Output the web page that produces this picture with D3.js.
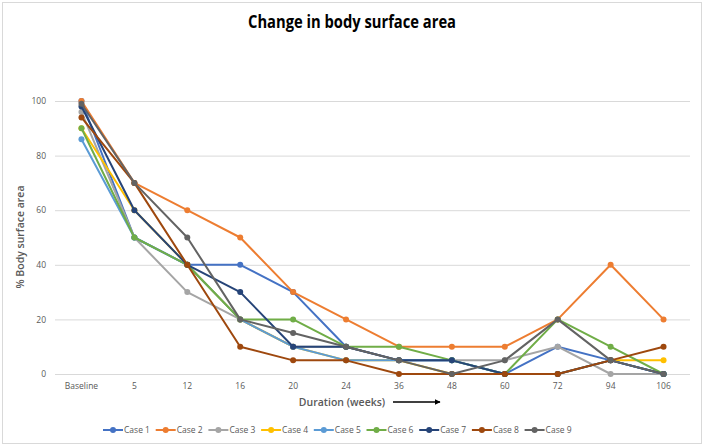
<!DOCTYPE html>
<html><head><meta charset="utf-8">
<script src="https://cdn.jsdelivr.net/npm/d3@7"></script>
<style>body{margin:0;background:#fff;} svg{display:block;}</style>
</head><body>
<svg id="chart" width="705" height="448"></svg>
<script>
const categories = ["Baseline","5","12","16","20","24","36","48","60","72","94","106"];
const yTicks = [0,20,40,60,80,100];
const seriesNames = ["Case 1","Case 2","Case 3","Case 4","Case 5","Case 6","Case 7","Case 8","Case 9"];
const case1 = [100,50,40,40,30,10,5,5,0,10,5,0];
const case2 = [100,70,60,50,30,20,10,10,10,20,40,20];
const case3 = [96,50,30,20,10,10,5,5,5,10,0,0];
const case4 = [90,60,40,20,10,5,5,0,0,0,5,5];
const case5 = [86,50,40,20,10,5,5,5,0,0,5,0];
const case6 = [90,50,40,20,20,10,10,5,0,20,10,0];
const case7 = [98,60,40,30,10,10,5,5,0,0,5,0];
const case8 = [94,70,40,10,5,5,0,0,0,0,5,10];
const case9 = [99,70,50,20,15,10,5,0,5,20,5,0];
const seriesValues = [case1,case2,case3,case4,case5,case6,case7,case8,case9];
const colors = ["#4472C4","#ED7D31","#A5A5A5","#FFC000","#5B9BD5","#70AD47","#264478","#9E480E","#636363"];

const svg = d3.select("#chart");
const font = "'Open Sans', 'Liberation Sans', sans-serif";
svg.append("rect").attr("x",2.5).attr("y",2.5).attr("width",699).attr("height",441)
  .attr("fill","#fff").attr("stroke","#d9d9d9");

const m = {left:55, right:690, top:101, bottom:374};
const x = d3.scaleBand().domain(categories).range([m.left, m.right]);
const y = d3.scaleLinear().domain([0,100]).range([m.bottom, m.top]);

svg.append("text").attr("x",352).attr("y",28).attr("text-anchor","middle")
  .attr("font-family","'Open Sans', sans-serif").attr("font-weight","700").attr("font-size",17.5)
  .attr("fill","#000").attr("textLength",208).attr("lengthAdjust","spacingAndGlyphs")
  .text("Change in body surface area");

const yAxis = d3.axisLeft(y).tickValues(yTicks).tickSize(-(m.right-m.left)).tickPadding(9);
const gy = svg.append("g").attr("transform",`translate(${m.left},0)`).call(yAxis);
gy.select(".domain").remove();
gy.selectAll(".tick line").attr("stroke","#d9d9d9").attr("stroke-width",1);
gy.selectAll(".tick text").attr("font-family",font).attr("font-size",8.5).attr("fill","#595959");

const xAxis = d3.axisBottom(x).tickSize(0).tickPadding(9);
const gx = svg.append("g").attr("transform",`translate(0,${m.bottom})`).call(xAxis);
gx.select(".domain").remove();
gx.selectAll(".tick text").attr("font-family",font).attr("font-size",8.5).attr("fill","#595959");

svg.append("text").attr("transform","translate(24,237) rotate(-90)").attr("text-anchor","middle")
  .attr("font-family",font).attr("font-weight","600").attr("font-size",10.5).attr("fill","#595959")
  .text("% Body surface area");
svg.append("text").attr("x",342).attr("y",406).attr("text-anchor","middle")
  .attr("font-family",font).attr("font-weight","600").attr("font-size",10.5).attr("fill","#595959")
  .text("Duration (weeks)");
svg.append("defs").append("marker").attr("id","arr").attr("viewBox","0 0 10 10").attr("refX",9).attr("refY",5)
  .attr("markerWidth",4).attr("markerHeight",4).attr("orient","auto")
  .append("path").attr("d","M0,0L10,5L0,10z").attr("fill","#000");
svg.append("line").attr("x1",393).attr("x2",440).attr("y1",402).attr("y2",402)
  .attr("stroke","#000").attr("stroke-width",1.5).attr("marker-end","url(#arr)");

const line = d3.line().x((d,i)=>x(categories[i])+x.bandwidth()/2).y(d=>y(d));
seriesValues.forEach((vals,si)=>{
  const g = svg.append("g");
  g.append("path").datum(vals).attr("d",line).attr("fill","none")
    .attr("stroke",colors[si]).attr("stroke-width",2).attr("stroke-linejoin","round");
  g.selectAll("circle").data(vals).join("circle")
    .attr("cx",(d,i)=>x(categories[i])+x.bandwidth()/2).attr("cy",d=>y(d)).attr("r",3)
    .attr("fill",colors[si]);
});

const lg = svg.append("g");
seriesNames.forEach((n,i)=>{
  const x0 = 103 + i*52.7;
  lg.append("line").attr("x1",x0).attr("x2",x0+20).attr("y1",430).attr("y2",430)
    .attr("stroke",colors[i]).attr("stroke-width",2);
  lg.append("circle").attr("cx",x0+10).attr("cy",430).attr("r",3).attr("fill",colors[i]);
  lg.append("text").attr("x",x0+21).attr("y",433).attr("font-family",font).attr("font-size",8.5)
    .attr("fill","#595959").text(n);
});
</script>
</body></html>
